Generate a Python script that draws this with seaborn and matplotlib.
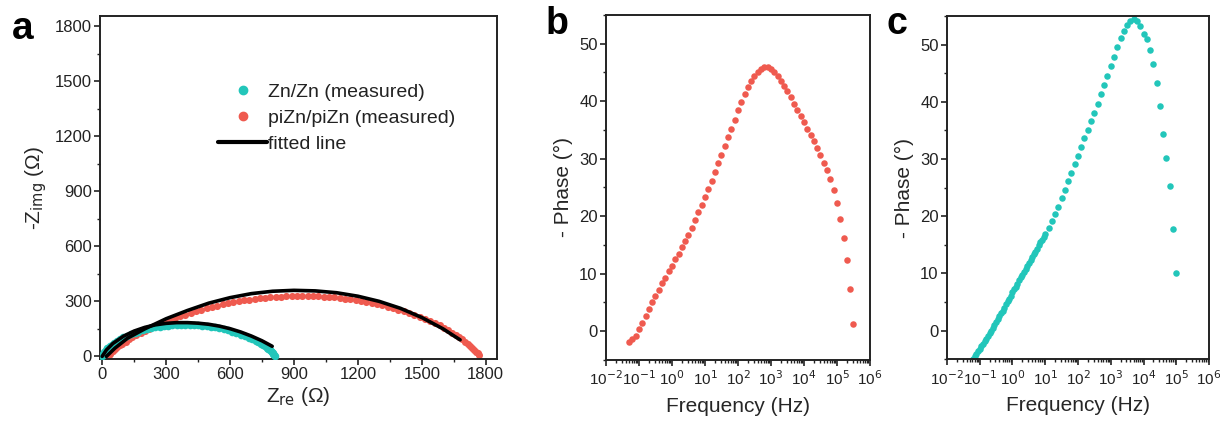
import matplotlib
matplotlib.use("Agg")
import matplotlib.pyplot as plt
import seaborn as sns
import pandas as pd
from matplotlib.ticker import MultipleLocator, FixedLocator, LogLocator, NullFormatter
from matplotlib.lines import Line2D

# ---------------- data ----------------
# panel a: Nyquist plot
zn_zre = [0, 4, 10, 17, 25, 35, 45, 57, 70, 85, 100, 117, 135, 152, 170, 190, 210, 230, 250, 270,
          290, 310, 330, 350, 370, 390, 410, 430, 450, 470, 490, 510, 530, 550, 570, 590, 610, 630,
          650, 670, 690, 705, 720, 733, 745, 756, 765, 773, 780, 786, 792, 797, 801, 804, 807, 810]
zn_zim = [3, 14, 25, 35, 45, 55, 64, 74, 84, 94, 103, 112, 120, 128, 135, 142, 148, 153, 158, 162,
          165, 167, 169, 170, 171, 171, 171, 170, 169, 167, 165, 162, 158, 153, 148, 142, 135, 127,
          119, 110, 101, 93, 85, 77, 70, 62, 55, 48, 42, 36, 30, 24, 19, 14, 8, 2]

pizn_zre = [25, 30, 35, 42, 50, 59, 70, 82, 95, 110, 125, 142, 160, 180, 200, 222, 245, 267, 290,
            315, 340, 365, 390, 415, 440, 465, 490, 515, 540, 565, 590, 615, 640, 665, 690, 715,
            740, 765, 790, 815, 840, 865, 890, 915, 940, 965, 990, 1015, 1040, 1065, 1090, 1115,
            1140, 1165, 1190, 1215, 1240, 1265, 1290, 1315, 1340, 1365, 1390, 1415, 1440, 1465,
            1490, 1515, 1540, 1563, 1585, 1606, 1625, 1643, 1660, 1676, 1690, 1703, 1715, 1727,
            1737, 1746, 1755, 1762, 1768]
pizn_zim = [0, 7, 15, 23, 32, 41, 50, 60, 70, 81, 92, 103, 115, 126, 138, 150, 162, 173, 185,
            196, 207, 218, 228, 237, 246, 254, 262, 269, 276, 283, 289, 295, 300, 305, 309, 313,
            316, 319, 322, 324, 326, 327, 328, 329, 329, 329, 328, 327, 325, 323, 321, 318,
            315, 311, 307, 302, 297, 291, 285, 278, 271, 263, 255, 246, 237, 227,
            216, 205, 193, 181, 169, 156, 143, 130, 118, 105, 93, 81, 69, 57,
            46, 35, 25, 16, 8]

fit_zn_zre = [0, 20, 50, 100, 150, 200, 250, 300, 350, 400, 450, 500, 550, 600, 650, 700, 750, 798]
fit_zn_zim = [0, 35, 70, 110, 138, 158, 172, 180, 184, 184, 181, 175, 165, 151, 133, 111, 85, 55]

fit_pizn_zre = [20, 60, 120, 200, 300, 400, 500, 600, 700, 800, 900, 1000, 1100, 1200, 1300,
                1400, 1500, 1600, 1680]
fit_pizn_zim = [0, 45, 100, 150, 205, 250, 290, 320, 342, 355, 360, 357, 347, 328, 300,
                262, 212, 150, 90]

# panel b: phase of piZn/piZn
freq_b = [0.05, 0.063, 0.079, 0.1, 0.126, 0.158, 0.2, 0.251, 0.316, 0.398, 0.5, 0.631, 0.794,
          1.0, 1.26, 1.58, 2.0, 2.51, 3.16, 3.98, 5.01, 6.31, 7.94,
          10.0, 12.6, 15.8, 20.0, 25.1, 31.6, 39.8, 50.1, 63.1, 79.4,
          100, 126, 158, 200, 251, 316, 398, 501, 631, 794,
          1000, 1260, 1580, 2000, 2510, 3160, 3980, 5010, 6310, 7940,
          10000, 12600, 15800, 20000, 25100, 31600, 39800, 50100, 63100, 79400,
          100000, 126000, 158000, 200000, 251000, 316000]
phase_b = [-1.8, -1.3, -0.8, 0.3, 1.5, 2.7, 3.8, 5.0, 6.1, 7.2, 8.3, 9.3, 10.4,
           11.4, 12.5, 13.5, 14.6, 15.7, 16.8, 18.0, 19.3, 20.7, 22.0,
           23.4, 24.8, 26.2, 27.7, 29.2, 30.7, 32.2, 33.7, 35.2, 36.8,
           38.4, 39.9, 41.2, 42.4, 43.5, 44.4, 45.1, 45.6, 45.9, 45.9,
           45.6, 45.1, 44.4, 43.6, 42.7, 41.7, 40.7, 39.6, 38.5, 37.4,
           36.3, 35.2, 34.1, 33.0, 31.9, 30.6, 29.3, 28.0, 26.5, 24.5,
           22.3, 19.5, 16.2, 12.3, 7.3, 1.3]

# panel c: phase of Zn/Zn
freq_c = [0.063, 0.071, 0.079, 0.089, 0.1, 0.112, 0.126, 0.141, 0.158, 0.178, 0.2, 0.224, 0.251,
          0.282, 0.316, 0.355, 0.398, 0.447, 0.5, 0.562, 0.631, 0.708, 0.794, 0.891,
          1.0, 1.12, 1.26, 1.41, 1.58, 1.78, 2.0, 2.24, 2.51, 2.82, 3.16, 3.55, 3.98, 4.47,
          5.01, 5.62, 6.31, 7.08, 7.94, 8.91, 10.0, 12.6, 15.8, 20.0, 25.1, 31.6, 39.8, 50.1,
          63.1, 79.4, 100, 126, 158, 200, 251, 316, 398, 501, 631, 794,
          1000, 1260, 1580, 2000, 2510, 3160, 3980, 5010, 6310, 7940,
          10000, 12600, 15800, 20000, 25100, 31600, 39800, 50100, 63100, 79400, 100000]
phase_c = [-5.0, -4.5, -4.1, -3.6, -3.2, -2.7, -2.3, -1.8, -1.4, -0.9, -0.5, 0.0, 0.5,
           1.0, 1.5, 2.0, 2.5, 3.0, 3.5, 4.0, 4.6, 5.1, 5.6, 6.1,
           6.7, 7.2, 7.7, 8.2, 8.8, 9.3, 9.8, 10.3, 10.8, 11.3, 11.8, 12.3, 12.8, 13.3,
           13.8, 14.3, 14.9, 15.4, 15.9, 16.4, 16.9, 18.0, 19.1, 20.3, 21.6, 23.1, 24.6, 26.1,
           27.6, 29.1, 30.6, 32.1, 33.6, 35.1, 36.6, 38.1, 39.7, 41.3, 42.9, 44.5,
           46.2, 47.9, 49.6, 51.1, 52.4, 53.4, 54.1, 54.5, 54.2, 53.2,
           51.8, 51.0, 49.1, 46.6, 43.3, 39.3, 34.3, 30.2, 25.2, 17.8, 10.1]

# ---------------- style ----------------
CYAN = "#22c6ba"
RED = "#ef5a4f"

sns.set_theme(style="ticks")
plt.rcParams["font.family"] = ["Liberation Sans", "DejaVu Sans"]
plt.rcParams["axes.linewidth"] = 1.4
plt.rcParams["axes.edgecolor"] = "#222222"
plt.rcParams["xtick.color"] = "#222222"
plt.rcParams["ytick.color"] = "#222222"
plt.rcParams["text.color"] = "#222222"

fig = plt.figure(figsize=(12.2, 4.23), dpi=100)
ax_a = fig.add_axes([0.082, 0.151, 0.325, 0.811])
ax_b = fig.add_axes([0.4967, 0.149, 0.2164, 0.8156])
ax_c = fig.add_axes([0.7762, 0.151, 0.2148, 0.811])

tick_fs = 12
label_fs = 15

# ---- panel a ----
df_zn = pd.DataFrame({"Zre": zn_zre, "Zim": zn_zim})
df_pi = pd.DataFrame({"Zre": pizn_zre, "Zim": pizn_zim})
df_fz = pd.DataFrame({"Zre": fit_zn_zre, "Zim": fit_zn_zim})
df_fp = pd.DataFrame({"Zre": fit_pizn_zre, "Zim": fit_pizn_zim})

sns.scatterplot(data=df_pi, x="Zre", y="Zim", ax=ax_a, color=RED, s=26, linewidth=0, zorder=2)
sns.scatterplot(data=df_zn, x="Zre", y="Zim", ax=ax_a, color=CYAN, s=30, linewidth=0, zorder=3)
sns.lineplot(data=df_fz, x="Zre", y="Zim", ax=ax_a, color="black", lw=2.6, sort=False, zorder=4)
sns.lineplot(data=df_fp, x="Zre", y="Zim", ax=ax_a, color="black", lw=2.6, sort=False, zorder=4)

ax_a.set_xlim(-10, 1851)
ax_a.set_ylim(-15, 1855)
ax_a.xaxis.set_major_locator(MultipleLocator(300))
ax_a.xaxis.set_minor_locator(MultipleLocator(150))
ax_a.yaxis.set_major_locator(MultipleLocator(300))
ax_a.yaxis.set_minor_locator(MultipleLocator(150))
ax_a.set_xlabel("Z$_{\\rm re}$ (Ω)", fontsize=label_fs, labelpad=2)
ax_a.set_ylabel("-Z$_{\\rm img}$ (Ω)", fontsize=label_fs, labelpad=4)

handles = [
    Line2D([], [], marker="o", ls="none", color=CYAN, markersize=6),
    Line2D([], [], marker="o", ls="none", color=RED, markersize=6),
    Line2D([], [], color="black", lw=3),
]
ax_a.legend(handles, ["Zn/Zn (measured)", "piZn/piZn (measured)", "fitted line"],
            loc="upper left", bbox_to_anchor=(0.298, 0.803), frameon=False,
            fontsize=14, handlelength=2.5, handletextpad=0.05, labelspacing=0.42,
            borderaxespad=0, borderpad=0)

# ---- panels b, c ----
df_b = pd.DataFrame({"f": freq_b, "phase": phase_b})
df_c = pd.DataFrame({"f": freq_c, "phase": phase_c})
sns.scatterplot(data=df_b, x="f", y="phase", ax=ax_b, color=RED, s=22, linewidth=0)
sns.scatterplot(data=df_c, x="f", y="phase", ax=ax_c, color=CYAN, s=22, linewidth=0)

for ax in (ax_b, ax_c):
    ax.set_xscale("log")
    ax.set_xlim(1e-2, 1e6)
    ax.set_ylim(-5, 55)
    ax.xaxis.set_major_locator(FixedLocator([10.0 ** k for k in range(-2, 7)]))
    ax.set_xticklabels(["10$^{%d}$" % k for k in range(-2, 7)])
    ax.xaxis.set_minor_locator(LogLocator(base=10, subs=range(2, 10), numticks=20))
    ax.xaxis.set_minor_formatter(NullFormatter())
    ax.yaxis.set_major_locator(MultipleLocator(10))
    ax.yaxis.set_minor_locator(MultipleLocator(5))
    ax.set_xlabel("Frequency (Hz)", fontsize=label_fs, labelpad=6)
    ax.set_ylabel("- Phase (°)", fontsize=label_fs, labelpad=4)

for ax in (ax_a, ax_b, ax_c):
    for sp in ax.spines.values():
        sp.set_visible(True)
    ax.tick_params(which="major", direction="out", length=4, width=1.2, labelsize=tick_fs,
                   top=False, right=False, pad=2)
    ax.tick_params(which="minor", direction="out", length=2.5, width=1.0, top=False, right=False)
    ax.set_facecolor("white")
for ax in (ax_b, ax_c):
    ax.tick_params(axis="x", which="major", labelsize=11, pad=3)

fig.text(0.010, 0.975, "a", fontsize=28, fontweight="bold", va="top", ha="left", color="black")
fig.text(0.447, 0.985, "b", fontsize=27, fontweight="bold", va="top", ha="left", color="black")
fig.text(0.727, 0.985, "c", fontsize=27, fontweight="bold", va="top", ha="left", color="black")

fig.savefig("out.png", dpi=100, facecolor="white")
